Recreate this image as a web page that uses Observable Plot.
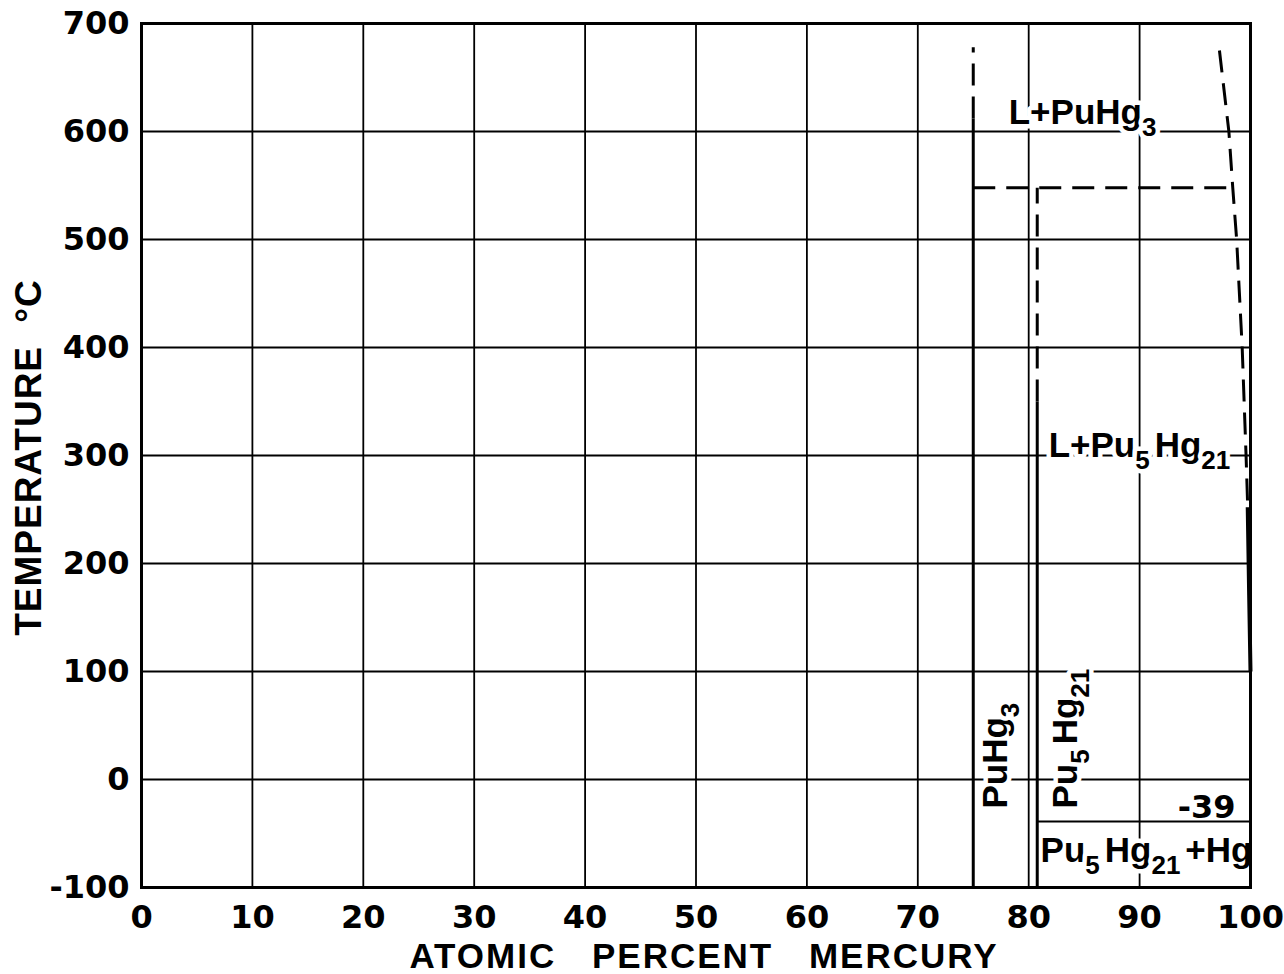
<!DOCTYPE html>
<html>
<head>
<meta charset="utf-8">
<script src="https://cdn.jsdelivr.net/npm/d3@7"></script>
<script src="https://cdn.jsdelivr.net/npm/@observablehq/plot@0.6"></script>
<style>
  html, body { margin: 0; padding: 0; background: #fff; }
  #chart svg { display: block; }
</style>
</head>
<body>
<div id="chart"></div>
<script>
// Pu–Hg phase diagram (atomic percent mercury vs temperature)

const compositionTicks = [0, 10, 20, 30, 40, 50, 60, 70, 80, 90, 100];
const temperatureTicks = [-100, 0, 100, 200, 300, 400, 500, 600, 700];

const xTitle = ["ATOMIC PERCENT MERCURY"];
const yTitle = ["TEMPERATURE °C"];

// Phase boundaries as [atomic % Hg, °C]
const puHg3Solid     = [[75, -100], [75, 612]];
const puHg3Dashed    = [[75, 612], [75, 678]];
const pu5Hg21Solid   = [[80.77, -100], [80.77, 350]];
const pu5Hg21Dashed  = [[80.77, 350], [80.77, 548]];
const peritectic548  = [[75, 548], [98.4, 548]];
const liquidusDashed = [[97.2, 675], [98.05, 600], [98.4, 548], [98.75, 500], [99.25, 400], [99.6, 300], [99.75, 252]];
const liquidusSolid  = [[99.75, 252], [99.88, 170], [100, 100]];
const eutectic       = [[80.77, -39], [100, -39]];

// Field and compound labels; "_{..}" marks a subscript
const phaseLabels = [
  {text: "L+PuHg_{3}",        x: 78.2,  t: 617,   rotate: 0},
  {text: "L+Pu_{5}Hg_{21}",   x: 81.8,  t: 309,   rotate: 0},
  {text: "PuHg_{3}",          x: 77.05, t: -26.9, rotate: -90},
  {text: "Pu_{5}Hg_{21}",     x: 83.37, t: -26.9, rotate: -90},
  {text: "Pu_{5}Hg_{21}+Hg",  x: 81.07, t: -66.2, rotate: 0}
];
const tempLabels = [
  {text: "-39", x: 98.65, t: -26.4}
];

const LABEL_SIZE = 35;
const px = d => d[0];
const py = d => d[1];
const solid = {x: px, y: py, stroke: "#000", strokeWidth: 3, strokeLinecap: "butt"};
const dashed = {...solid, strokeDasharray: "22,11"};

const chart = Plot.plot({
  width: 1284,
  height: 974,
  marginLeft: 141,
  marginRight: 34,
  marginTop: 23,
  marginBottom: 87,
  style: {
    fontFamily: "DejaVu Sans",
    fontSize: "32px",
    fontWeight: "bold",
    color: "#000",
    background: "#fff"
  },
  x: {
    domain: [0, 100],
    ticks: compositionTicks,
    tickSize: 0,
    tickPadding: 18,
    tickFormat: d => String(d),
    label: null
  },
  y: {
    domain: [-100, 700],
    ticks: temperatureTicks,
    tickSize: 0,
    tickPadding: 12,
    tickFormat: d => String(d),
    label: null
  },
  marks: [
    Plot.ruleX(compositionTicks, {stroke: "#000", strokeWidth: 1.8}),
    Plot.ruleY(temperatureTicks, {stroke: "#000", strokeWidth: 1.8}),
    Plot.text(phaseLabels, {
      x: "x", y: "t", text: "text", rotate: "rotate",
      textAnchor: "start",
      lineAnchor: "middle",
      fontFamily: "Liberation Sans",
      fontWeight: "bold",
      fontSize: LABEL_SIZE,
      fill: "#000",
      stroke: "#fff",
      strokeWidth: 9,
      paintOrder: "stroke"
    }),
    Plot.text(tempLabels, {
      x: "x", y: "t", text: "text",
      textAnchor: "end",
      lineAnchor: "middle",
      fontFamily: "DejaVu Sans",
      fontWeight: "bold",
      fontSize: 32,
      fill: "#000",
      stroke: "#fff",
      strokeWidth: 9,
      paintOrder: "stroke"
    }),
    Plot.line(puHg3Solid, solid),
    Plot.line(puHg3Dashed, dashed),
    Plot.line(pu5Hg21Solid, solid),
    Plot.line(pu5Hg21Dashed, dashed),
    Plot.line(peritectic548, dashed),
    Plot.line(liquidusDashed, dashed),
    Plot.line(liquidusSolid, {...solid, strokeWidth: 4}),
    Plot.line(eutectic, {...solid, strokeWidth: 2}),
    Plot.frame({stroke: "#000", strokeWidth: 3}),
    Plot.text(xTitle, {
      frameAnchor: "bottom", textAnchor: "middle", lineAnchor: "middle",
      dx: 8, dy: 69,
      fontFamily: "Liberation Sans", fontWeight: "bold", fontSize: 35, fill: "#000"
    }),
    Plot.text(yTitle, {
      frameAnchor: "left", textAnchor: "middle", lineAnchor: "middle",
      rotate: -90, dx: -112, dy: 2,
      fontFamily: "Liberation Sans", fontWeight: "bold", fontSize: 37, fill: "#000"
    })
  ]
});

document.getElementById("chart").appendChild(chart);

// Turn "_{..}" segments into lowered, smaller tspans; space out the axis titles
const subShift = 12;
d3.select(chart).selectAll("text").each(function () {
  const s = this.textContent;
  if (s === xTitle[0]) {
    this.style.letterSpacing = "2px";
    this.style.wordSpacing = "24px";
    return;
  }
  if (s === yTitle[0]) {
    this.style.letterSpacing = "1px";
    this.style.wordSpacing = "12px";
    return;
  }
  if (!s.includes("_{")) return;
  const parts = [...s.matchAll(/_\{([^}]*)\}|([^_]+)/g)];
  const node = d3.select(this);
  node.text(null);
  let lowered = false;
  for (const m of parts) {
    if (m[1] !== undefined) {
      node.append("tspan")
        .attr("dy", lowered ? 0 : subShift)
        .attr("font-size", Math.round(LABEL_SIZE * 0.74))
        .text(m[1]);
      lowered = true;
    } else {
      const t = node.append("tspan")
        .attr("dy", lowered ? -subShift : 0)
        .text(m[2]);
      if (lowered) t.attr("dx", 5);
      lowered = false;
    }
  }
});
</script>
</body>
</html>
